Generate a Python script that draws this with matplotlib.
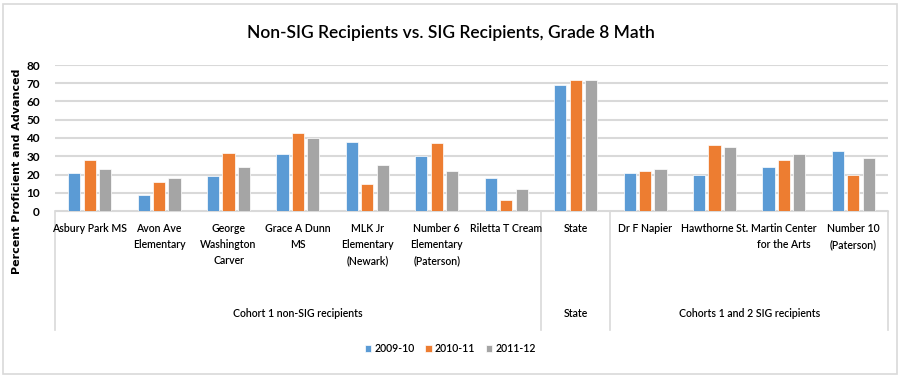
import numpy as np
import matplotlib.pyplot as plt
from matplotlib.patches import Rectangle
import matplotlib.transforms as mtransforms

# data
schools = ["Asbury Park MS", "Avon Ave\nElementary", "George\nWashington\nCarver",
           "Grace A Dunn\nMS", "MLK Jr\nElementary\n(Newark)", "Number 6\nElementary\n(Paterson)",
           "Riletta T Cream", "State", "Dr F Napier", "Hawthorne St.",
           "Martin Center\nfor the Arts", "Number 10\n(Paterson)"]
groups = ["Cohort 1 non-SIG recipients", "State", "Cohorts 1 and 2 SIG recipients"]
group_sizes = [7, 1, 4]
years = ["2009-10", "2010-11", "2011-12"]
y2009 = [21, 9, 19, 31, 38, 30, 18, 69, 21, 20, 24, 33]
y2010 = [28, 16, 32, 43, 15, 37, 6, 72, 22, 36, 28, 20]
y2011 = [23, 18, 24, 40, 25, 22, 12, 72, 23, 35, 31, 29]
colors = ["#5B9BD5", "#ED7D31", "#A5A5A5"]

fnt = "Lato"

fig = plt.figure(figsize=(9.01, 3.77), dpi=100)
ax = fig.add_axes([55/901, 1-211/377, (888-55)/901, (211-65)/377])

x = np.arange(len(schools))
w = 0.175
for i, vals in enumerate([y2009, y2010, y2011]):
    ax.bar(x + (i-1)*0.222, vals, w, color=colors[i], label=years[i],
           edgecolor="white", linewidth=0.5, zorder=3)

ax.set_xlim(-0.5, len(schools)-0.5)
ax.set_ylim(0, 80)
ax.set_yticks(range(0, 81, 10))
ax.set_yticklabels([str(v) for v in range(0, 81, 10)], fontfamily=fnt, fontweight="bold", fontsize=8.5)
ax.tick_params(axis="y", length=0, pad=11)
ax.set_xticks([])
ax.grid(axis="y", color="#D9D9D9", linewidth=1.5, zorder=0)
for s in ["top", "right", "left"]:
    ax.spines[s].set_visible(False)
ax.spines["bottom"].set_color("#D9D9D9")

ax.set_ylabel("Percent Proficient and Advanced", fontfamily="DejaVu Sans",
              fontweight="bold", fontsize=8)
ax.yaxis.set_label_coords(-33/833, 0.27)

# two-level category axis
trans = mtransforms.blended_transform_factory(ax.transData, ax.transAxes)
for xi, name in zip(x, schools):
    ax.text(xi, -0.085, name, transform=trans, ha="center", va="top",
            fontfamily=fnt, fontweight="semibold", fontsize=7.6, linespacing=1.55)

bounds = np.cumsum([0] + group_sizes) - 0.5
for b in bounds:
    ax.plot([b, b], [0, -0.815], transform=trans, color="#D9D9D9",
            linewidth=1.2, clip_on=False)
for g, lo, hi in zip(groups, bounds[:-1], bounds[1:]):
    ax.text((lo+hi)/2, -0.70, g, transform=trans, ha="center", va="center",
            fontfamily=fnt, fontweight="semibold", fontsize=7.6)

fig.suptitle("Non-SIG Recipients vs. SIG Recipients, Grade 8 Math", y=0.935,
             fontfamily=fnt, fontweight="semibold", fontsize=12.5)

fig.legend(loc="lower center", bbox_to_anchor=(0.5, 0.035), ncol=3, frameon=False,
           prop={"family": fnt, "weight": "semibold", "size": 7.6}, handlelength=0.6,
           handleheight=0.6, handletextpad=0.3, columnspacing=1.0)

fig.patches.append(Rectangle((3/901, 3/377), 894/901, 370/377, transform=fig.transFigure,
                             fill=False, edgecolor="#D9D9D9", linewidth=1.2))

fig.savefig("out.png", dpi=100)
